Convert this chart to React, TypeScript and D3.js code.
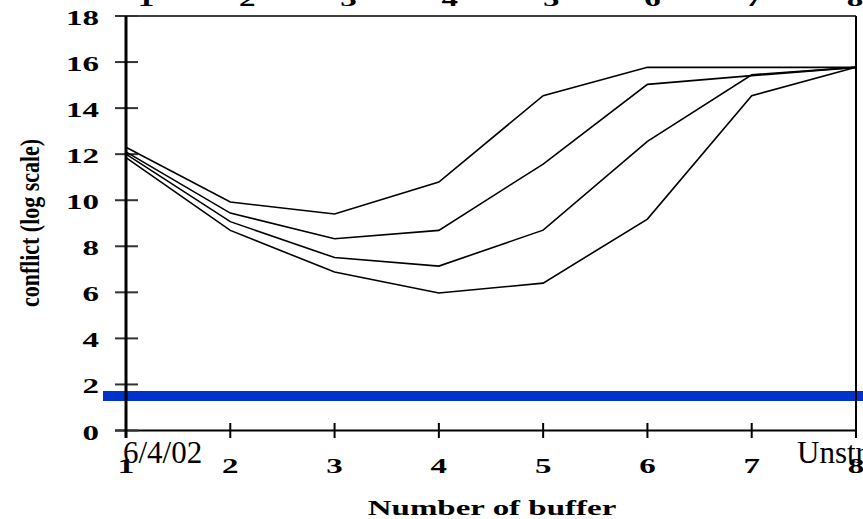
import React, { useEffect, useRef } from 'react';
import * as d3 from 'd3';

// number of buffers (x) and the four conflict curves
const bufferCounts = [1, 2, 3, 4, 5, 6, 7, 8];
const yTickValues = [0, 2, 4, 6, 8, 10, 12, 14, 16, 18];
const curveA = [12.3, 9.92, 9.4, 10.79, 14.54, 15.77, 15.77, 15.77];
const curveB = [12.1, 9.44, 8.33, 8.69, 11.57, 15.03, 15.41, 15.77];
const curveC = [12.0, 9.07, 7.51, 7.14, 8.7, 12.56, 15.45, 15.77];
const curveD = [11.85, 8.69, 6.88, 5.97, 6.4, 9.18, 14.54, 15.77];
const blueLevel = 1.5;
const dateLabel = '6/4/02';
const cornerLabel = 'Unstructured';
const xTitle = 'Number of buffer';
const yTitle = 'conflict (log scale)';

const W = 863;
const H = 519;
const FONT = '"Liberation Serif", "Times New Roman", serif';

const App = () => {
    const svgRef = useRef<SVGSVGElement>(null);

    useEffect(() => {
        const svg = d3.select(svgRef.current);
        svg.selectAll('*').remove();

        const x = d3.scaleLinear().domain([1, 8]).range([126, 856]);
        const xTop = d3.scaleLinear().domain([1, 8]).range([146, 855]);
        const y = d3.scaleLinear().domain([0, 18]).range([430.5, 16]);

        // stretched bold labels (the slide font is wide)
        const wideText = (px: number, py: number, txt: string, anchor: string) => {
            svg.append('g')
                .attr('transform', `translate(${px},${py}) scale(1.5,1)`)
                .append('text')
                .attr('text-anchor', anchor)
                .style('font-family', FONT)
                .style('font-weight', 'bold')
                .style('font-size', '22px')
                .style('fill', '#000')
                .text(txt);
        };

        // blue reference band
        svg.append('line')
            .attr('x1', 103).attr('x2', W)
            .attr('y1', y(blueLevel)).attr('y2', y(blueLevel))
            .style('stroke', '#0033cc')
            .style('stroke-width', 10);

        // frame: top, right, bottom
        svg.append('line')
            .attr('x1', 115).attr('x2', x(8))
            .attr('y1', y(18)).attr('y2', y(18))
            .style('stroke', '#000').style('stroke-width', 1.5);
        svg.append('line')
            .attr('x1', x(8)).attr('x2', x(8))
            .attr('y1', y(18)).attr('y2', y(0))
            .style('stroke', '#000').style('stroke-width', 2);
        svg.append('line')
            .attr('x1', 115).attr('x2', x(8))
            .attr('y1', y(0)).attr('y2', y(0))
            .style('stroke', '#000').style('stroke-width', 2);

        // y ticks + labels
        yTickValues.forEach(v => {
            svg.append('line')
                .attr('x1', 115).attr('x2', 138)
                .attr('y1', y(v)).attr('y2', y(v))
                .style('stroke', '#333').style('stroke-width', 2);
            wideText(99, y(v) + 9, String(v), 'end');
        });

        // x ticks + labels
        bufferCounts.forEach(v => {
            svg.append('line')
                .attr('x1', x(v)).attr('x2', x(v))
                .attr('y1', 423).attr('y2', 438)
                .style('stroke', '#000').style('stroke-width', 2);
            wideText(x(v), 473, String(v), 'middle');
            wideText(xTop(v), 6, String(v), 'middle');
        });

        // left axis (thick)
        svg.append('line')
            .attr('x1', x(1)).attr('x2', x(1))
            .attr('y1', y(18)).attr('y2', 438)
            .style('stroke', '#000').style('stroke-width', 3);

        // curves
        const line = d3.line<number>()
            .x((d, i) => x(bufferCounts[i]))
            .y(d => y(d));

        svg.selectAll('.curve')
            .data([curveA, curveB, curveC, curveD])
            .enter().append('path')
            .attr('class', 'curve')
            .attr('d', d => line(d))
            .style('fill', 'none')
            .style('stroke', '#000')
            .style('stroke-width', 1.6)
            .style('stroke-linejoin', 'miter');

        // axis titles
        wideText(492, 515, xTitle, 'middle');

        svg.append('text')
            .attr('transform', `translate(39,223) rotate(-90)`)
            .attr('text-anchor', 'middle')
            .attr('textLength', 168)
            .attr('lengthAdjust', 'spacingAndGlyphs')
            .style('font-family', FONT)
            .style('font-weight', 'bold')
            .style('font-size', '28px')
            .text(yTitle);

        // slide footer texts
        svg.append('text')
            .attr('x', 123).attr('y', 463)
            .style('font-family', FONT)
            .style('font-size', '31px')
            .text(dateLabel);
        svg.append('text')
            .attr('x', 797).attr('y', 463)
            .style('font-family', FONT)
            .style('font-size', '31px')
            .text(cornerLabel);
    }, []);

    return (
        <svg ref={svgRef} width={W} height={H}
            style={{ position: 'absolute', left: 0, top: 0, background: '#fff' }} />
    );
};

export default App;
